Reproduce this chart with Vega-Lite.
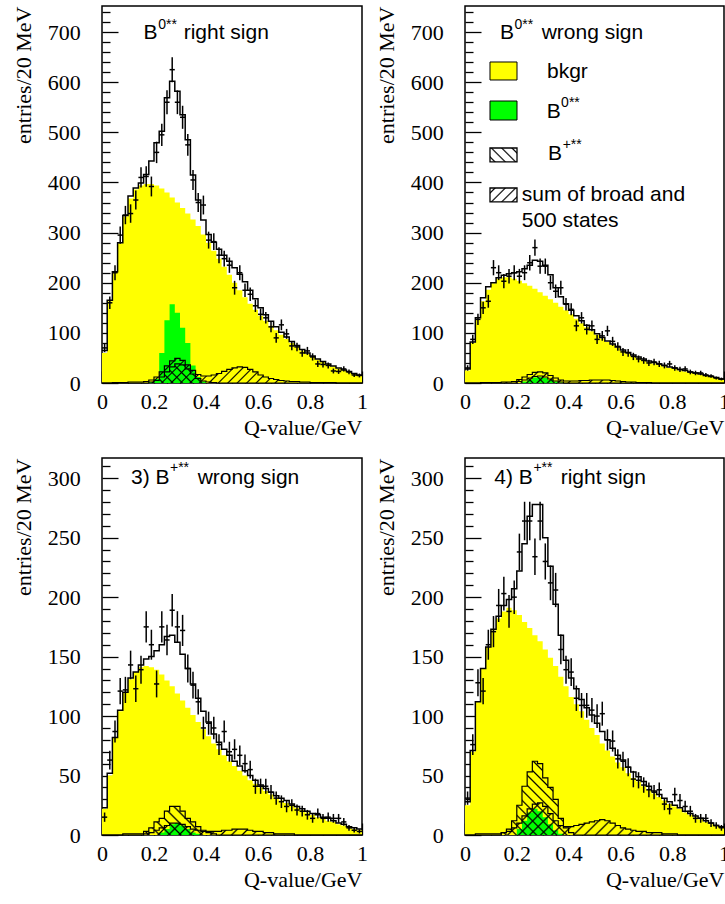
{
"$schema":"https://vega.github.io/schema/vega-lite/v6.json",
"padding":{"left":11,"top":5,"right":0,"bottom":0},
"background":"white",
"config":{"view":{"stroke":"black","strokeWidth":1.5},"font":"Liberation Sans",
"axis":{"domain":false,"grid":false,"tickColor":"black","tickWidth":1.3,"labelFont":"Liberation Serif","labelFontSize":22,"labelColor":"black","titleFont":"Liberation Serif","titleFontSize":22,"titleFontWeight":"normal","titleColor":"black","labelFlush":false,"labelOverlap":false,"titleAnchor":"end","zindex":1},
"axisX":{"labelPadding":20,"titlePadding":5},
"axisY":{"labelPadding":37.7,"titlePadding":12}},
"datasets":{
"h1":[{"q":0,"bk":60,"g":0,"bp":0,"s":0,"t":65},{"q":0.02,"bk":163,"g":0,"bp":0,"s":0,"t":165},{"q":0.04,"bk":221,"g":0,"bp":0,"s":1,"t":222},{"q":0.06,"bk":279,"g":0,"bp":0,"s":1,"t":280},{"q":0.08,"bk":332,"g":0,"bp":0,"s":1,"t":334},{"q":0.1,"bk":368,"g":0,"bp":0,"s":2,"t":373},{"q":0.12,"bk":386,"g":0,"bp":0,"s":2,"t":389},{"q":0.14,"bk":394,"g":0,"bp":0,"s":2,"t":399},{"q":0.16,"bk":397,"g":0,"bp":0,"s":3,"t":416},{"q":0.18,"bk":397,"g":2,"bp":2,"s":6,"t":443},{"q":0.2,"bk":394,"g":8,"bp":5,"s":12,"t":479},{"q":0.22,"bk":388,"g":60,"bp":12,"s":22,"t":502},{"q":0.24,"bk":380,"g":125,"bp":22,"s":34,"t":569},{"q":0.26,"bk":370,"g":157,"bp":32,"s":44,"t":602},{"q":0.28,"bk":360,"g":140,"bp":38,"s":49,"t":582},{"q":0.3,"bk":349,"g":110,"bp":36,"s":45,"t":535},{"q":0.32,"bk":338,"g":80,"bp":28,"s":36,"t":485},{"q":0.34,"bk":326,"g":35,"bp":18,"s":25,"t":415},{"q":0.36,"bk":313,"g":12,"bp":9,"s":17,"t":365},{"q":0.38,"bk":296,"g":3,"bp":4,"s":14,"t":325},{"q":0.4,"bk":280,"g":0,"bp":2,"s":14,"t":296},{"q":0.42,"bk":264,"g":0,"bp":1,"s":16,"t":281},{"q":0.44,"bk":248,"g":0,"bp":0,"s":19,"t":267},{"q":0.46,"bk":232,"g":0,"bp":0,"s":23,"t":255},{"q":0.48,"bk":216,"g":0,"bp":0,"s":27,"t":243},{"q":0.5,"bk":200,"g":0,"bp":0,"s":30,"t":230},{"q":0.52,"bk":185,"g":0,"bp":0,"s":32,"t":217},{"q":0.54,"bk":171,"g":0,"bp":0,"s":31,"t":202},{"q":0.56,"bk":158,"g":0,"bp":0,"s":27,"t":185},{"q":0.58,"bk":146,"g":0,"bp":0,"s":22,"t":168},{"q":0.6,"bk":134,"g":0,"bp":0,"s":16,"t":150},{"q":0.62,"bk":124,"g":0,"bp":0,"s":12,"t":136},{"q":0.64,"bk":114,"g":0,"bp":0,"s":9,"t":123},{"q":0.66,"bk":105,"g":0,"bp":0,"s":7,"t":112},{"q":0.68,"bk":96,"g":0,"bp":0,"s":5,"t":101},{"q":0.7,"bk":88,"g":0,"bp":0,"s":4,"t":92},{"q":0.72,"bk":80,"g":0,"bp":0,"s":3,"t":83},{"q":0.74,"bk":72,"g":0,"bp":0,"s":3,"t":75},{"q":0.76,"bk":65,"g":0,"bp":0,"s":2,"t":67},{"q":0.78,"bk":58,"g":0,"bp":0,"s":2,"t":60},{"q":0.8,"bk":53,"g":0,"bp":0,"s":1,"t":54},{"q":0.82,"bk":47,"g":0,"bp":0,"s":1,"t":48},{"q":0.84,"bk":42,"g":0,"bp":0,"s":1,"t":43},{"q":0.86,"bk":37,"g":0,"bp":0,"s":1,"t":38},{"q":0.88,"bk":33,"g":0,"bp":0,"s":1,"t":34},{"q":0.9,"bk":29,"g":0,"bp":0,"s":0,"t":30},{"q":0.92,"bk":26,"g":0,"bp":0,"s":0,"t":26},{"q":0.94,"bk":23,"g":0,"bp":0,"s":0,"t":23},{"q":0.96,"bk":19,"g":0,"bp":0,"s":0,"t":19},{"q":0.98,"bk":16,"g":0,"bp":0,"s":0,"t":16},{"q":1,"bk":16,"g":0,"bp":0,"s":0,"t":16}],
"h2":[{"q":0,"bk":25,"g":0,"bp":0,"s":0,"t":28},{"q":0.02,"bk":80,"g":0,"bp":0,"s":0,"t":82},{"q":0.04,"bk":126,"g":0,"bp":0,"s":0,"t":130},{"q":0.06,"bk":163,"g":0,"bp":0,"s":1,"t":170},{"q":0.08,"bk":186,"g":0,"bp":0,"s":1,"t":192},{"q":0.1,"bk":199,"g":0,"bp":0,"s":1,"t":200},{"q":0.12,"bk":208,"g":0,"bp":0,"s":1,"t":210},{"q":0.14,"bk":211,"g":0,"bp":0,"s":2,"t":215},{"q":0.16,"bk":211,"g":0,"bp":0,"s":2,"t":218},{"q":0.18,"bk":208,"g":0,"bp":0,"s":3,"t":220},{"q":0.2,"bk":204,"g":0,"bp":3,"s":7,"t":222},{"q":0.22,"bk":199,"g":3,"bp":6,"s":12,"t":228},{"q":0.24,"bk":194,"g":7,"bp":10,"s":17,"t":235},{"q":0.26,"bk":188,"g":11,"bp":13,"s":21,"t":245},{"q":0.28,"bk":181,"g":12,"bp":14,"s":22,"t":243},{"q":0.3,"bk":174,"g":10,"bp":12,"s":20,"t":235},{"q":0.32,"bk":167,"g":6,"bp":8,"s":15,"t":216},{"q":0.34,"bk":160,"g":3,"bp":4,"s":10,"t":190},{"q":0.36,"bk":152,"g":1,"bp":2,"s":6,"t":172},{"q":0.38,"bk":145,"g":0,"bp":0,"s":4,"t":158},{"q":0.4,"bk":137,"g":0,"bp":0,"s":4,"t":145},{"q":0.42,"bk":128,"g":0,"bp":0,"s":4,"t":134},{"q":0.44,"bk":119,"g":0,"bp":0,"s":5,"t":124},{"q":0.46,"bk":111,"g":0,"bp":0,"s":5,"t":115},{"q":0.48,"bk":103,"g":0,"bp":0,"s":6,"t":106},{"q":0.5,"bk":96,"g":0,"bp":0,"s":6,"t":98},{"q":0.52,"bk":89,"g":0,"bp":0,"s":6,"t":91},{"q":0.54,"bk":82,"g":0,"bp":0,"s":6,"t":84},{"q":0.56,"bk":76,"g":0,"bp":0,"s":5,"t":78},{"q":0.58,"bk":70,"g":0,"bp":0,"s":4,"t":72},{"q":0.6,"bk":64,"g":0,"bp":0,"s":3,"t":66},{"q":0.62,"bk":59,"g":0,"bp":0,"s":2,"t":61},{"q":0.64,"bk":54,"g":0,"bp":0,"s":2,"t":56},{"q":0.66,"bk":50,"g":0,"bp":0,"s":1,"t":52},{"q":0.68,"bk":46,"g":0,"bp":0,"s":1,"t":48},{"q":0.7,"bk":42,"g":0,"bp":0,"s":1,"t":44},{"q":0.72,"bk":39,"g":0,"bp":0,"s":0,"t":41},{"q":0.74,"bk":36,"g":0,"bp":0,"s":0,"t":38},{"q":0.76,"bk":33,"g":0,"bp":0,"s":0,"t":35},{"q":0.78,"bk":30,"g":0,"bp":0,"s":0,"t":32},{"q":0.8,"bk":28,"g":0,"bp":0,"s":0,"t":30},{"q":0.82,"bk":25,"g":0,"bp":0,"s":0,"t":27},{"q":0.84,"bk":23,"g":0,"bp":0,"s":0,"t":25},{"q":0.86,"bk":21,"g":0,"bp":0,"s":0,"t":22},{"q":0.88,"bk":19,"g":0,"bp":0,"s":0,"t":20},{"q":0.9,"bk":17,"g":0,"bp":0,"s":0,"t":18},{"q":0.92,"bk":14,"g":0,"bp":0,"s":0,"t":15},{"q":0.94,"bk":12,"g":0,"bp":0,"s":0,"t":13},{"q":0.96,"bk":10,"g":0,"bp":0,"s":0,"t":11},{"q":0.98,"bk":8,"g":0,"bp":0,"s":0,"t":8},{"q":1,"bk":8,"g":0,"bp":0,"s":0,"t":8}],
"h3":[{"q":0,"bk":22,"g":0,"bp":0,"s":0,"t":23},{"q":0.02,"bk":50,"g":0,"bp":0,"s":0,"t":52},{"q":0.04,"bk":82,"g":0,"bp":0,"s":0,"t":82},{"q":0.06,"bk":104,"g":0,"bp":0,"s":0,"t":105},{"q":0.08,"bk":120,"g":0,"bp":0,"s":1,"t":120},{"q":0.1,"bk":131,"g":0,"bp":0,"s":1,"t":132},{"q":0.12,"bk":137,"g":0,"bp":0,"s":1,"t":137},{"q":0.14,"bk":141,"g":0,"bp":0,"s":1,"t":143},{"q":0.16,"bk":142,"g":0,"bp":3,"s":1,"t":148},{"q":0.18,"bk":141,"g":0,"bp":6,"s":2,"t":150},{"q":0.2,"bk":139,"g":0,"bp":11,"s":4,"t":155},{"q":0.22,"bk":135,"g":2,"bp":14,"s":6,"t":160},{"q":0.24,"bk":130,"g":5,"bp":20,"s":8,"t":167},{"q":0.26,"bk":125,"g":9,"bp":24,"s":10,"t":168},{"q":0.28,"bk":119,"g":10,"bp":24,"s":10,"t":162},{"q":0.3,"bk":113,"g":8,"bp":20,"s":9,"t":152},{"q":0.32,"bk":107,"g":5,"bp":14,"s":7,"t":140},{"q":0.34,"bk":101,"g":2,"bp":11,"s":5,"t":127},{"q":0.36,"bk":95,"g":1,"bp":7,"s":4,"t":115},{"q":0.38,"bk":89,"g":0,"bp":4,"s":3,"t":104},{"q":0.4,"bk":83,"g":0,"bp":2,"s":3,"t":95},{"q":0.42,"bk":77,"g":0,"bp":1,"s":3,"t":85},{"q":0.44,"bk":72,"g":0,"bp":0,"s":3,"t":78},{"q":0.46,"bk":67,"g":0,"bp":0,"s":4,"t":72},{"q":0.48,"bk":62,"g":0,"bp":0,"s":4,"t":67},{"q":0.5,"bk":58,"g":0,"bp":0,"s":5,"t":62},{"q":0.52,"bk":54,"g":0,"bp":0,"s":5,"t":58},{"q":0.54,"bk":50,"g":0,"bp":0,"s":5,"t":54},{"q":0.56,"bk":46,"g":0,"bp":0,"s":4,"t":50},{"q":0.58,"bk":43,"g":0,"bp":0,"s":3,"t":46},{"q":0.6,"bk":40,"g":0,"bp":0,"s":3,"t":42},{"q":0.62,"bk":37,"g":0,"bp":0,"s":2,"t":39},{"q":0.64,"bk":34,"g":0,"bp":0,"s":2,"t":36},{"q":0.66,"bk":31,"g":0,"bp":0,"s":1,"t":33},{"q":0.68,"bk":29,"g":0,"bp":0,"s":1,"t":31},{"q":0.7,"bk":27,"g":0,"bp":0,"s":1,"t":29},{"q":0.72,"bk":25,"g":0,"bp":0,"s":1,"t":26},{"q":0.74,"bk":23,"g":0,"bp":0,"s":0,"t":24},{"q":0.76,"bk":21,"g":0,"bp":0,"s":0,"t":22},{"q":0.78,"bk":19,"g":0,"bp":0,"s":0,"t":20},{"q":0.8,"bk":17,"g":0,"bp":0,"s":0,"t":18},{"q":0.82,"bk":15,"g":0,"bp":0,"s":0,"t":17},{"q":0.84,"bk":14,"g":0,"bp":0,"s":0,"t":15},{"q":0.86,"bk":12,"g":0,"bp":0,"s":0,"t":14},{"q":0.88,"bk":11,"g":0,"bp":0,"s":0,"t":12},{"q":0.9,"bk":9,"g":0,"bp":0,"s":0,"t":10},{"q":0.92,"bk":8,"g":0,"bp":0,"s":0,"t":9},{"q":0.94,"bk":7,"g":0,"bp":0,"s":0,"t":7},{"q":0.96,"bk":5,"g":0,"bp":0,"s":0,"t":6},{"q":0.98,"bk":4,"g":0,"bp":0,"s":0,"t":5},{"q":1,"bk":4,"g":0,"bp":0,"s":0,"t":5}],
"h4":[{"q":0,"bk":25,"g":0,"bp":0,"s":0,"t":28},{"q":0.02,"bk":70,"g":0,"bp":0,"s":0,"t":71},{"q":0.04,"bk":112,"g":0,"bp":0,"s":1,"t":112},{"q":0.06,"bk":140,"g":0,"bp":0,"s":1,"t":140},{"q":0.08,"bk":158,"g":0,"bp":0,"s":1,"t":158},{"q":0.1,"bk":172,"g":0,"bp":0,"s":1,"t":173},{"q":0.12,"bk":182,"g":0,"bp":0,"s":1,"t":184},{"q":0.14,"bk":188,"g":0,"bp":2,"s":2,"t":193},{"q":0.16,"bk":191,"g":0,"bp":5,"s":3,"t":198},{"q":0.18,"bk":189,"g":0,"bp":12,"s":6,"t":207},{"q":0.2,"bk":185,"g":5,"bp":25,"s":10,"t":222},{"q":0.22,"bk":179,"g":12,"bp":41,"s":16,"t":245},{"q":0.24,"bk":174,"g":19,"bp":53,"s":22,"t":268},{"q":0.26,"bk":168,"g":22,"bp":62,"s":26,"t":278},{"q":0.28,"bk":163,"g":20,"bp":60,"s":27,"t":278},{"q":0.3,"bk":156,"g":15,"bp":48,"s":24,"t":250},{"q":0.32,"bk":149,"g":9,"bp":40,"s":18,"t":226},{"q":0.34,"bk":142,"g":4,"bp":30,"s":12,"t":194},{"q":0.36,"bk":133,"g":1,"bp":14,"s":8,"t":168},{"q":0.38,"bk":125,"g":0,"bp":6,"s":7,"t":147},{"q":0.4,"bk":116,"g":0,"bp":2,"s":7,"t":132},{"q":0.42,"bk":110,"g":0,"bp":0,"s":8,"t":123},{"q":0.44,"bk":104,"g":0,"bp":0,"s":9,"t":114},{"q":0.46,"bk":97,"g":0,"bp":0,"s":10,"t":107},{"q":0.48,"bk":90,"g":0,"bp":0,"s":11,"t":101},{"q":0.5,"bk":84,"g":0,"bp":0,"s":12,"t":94},{"q":0.52,"bk":77,"g":0,"bp":0,"s":13,"t":87},{"q":0.54,"bk":71,"g":0,"bp":0,"s":12,"t":80},{"q":0.56,"bk":66,"g":0,"bp":0,"s":10,"t":73},{"q":0.58,"bk":61,"g":0,"bp":0,"s":8,"t":67},{"q":0.6,"bk":57,"g":0,"bp":0,"s":6,"t":63},{"q":0.62,"bk":52,"g":0,"bp":0,"s":5,"t":57},{"q":0.64,"bk":48,"g":0,"bp":0,"s":4,"t":53},{"q":0.66,"bk":45,"g":0,"bp":0,"s":3,"t":49},{"q":0.68,"bk":41,"g":0,"bp":0,"s":3,"t":45},{"q":0.7,"bk":38,"g":0,"bp":0,"s":2,"t":41},{"q":0.72,"bk":35,"g":0,"bp":0,"s":2,"t":37},{"q":0.74,"bk":32,"g":0,"bp":0,"s":2,"t":34},{"q":0.76,"bk":29,"g":0,"bp":0,"s":1,"t":31},{"q":0.78,"bk":26,"g":0,"bp":0,"s":1,"t":28},{"q":0.8,"bk":24,"g":0,"bp":0,"s":1,"t":25},{"q":0.82,"bk":22,"g":0,"bp":0,"s":0,"t":23},{"q":0.84,"bk":19,"g":0,"bp":0,"s":0,"t":20},{"q":0.86,"bk":17,"g":0,"bp":0,"s":0,"t":18},{"q":0.88,"bk":15,"g":0,"bp":0,"s":0,"t":16},{"q":0.9,"bk":13,"g":0,"bp":0,"s":0,"t":14},{"q":0.92,"bk":11,"g":0,"bp":0,"s":0,"t":12},{"q":0.94,"bk":9,"g":0,"bp":0,"s":0,"t":10},{"q":0.96,"bk":8,"g":0,"bp":0,"s":0,"t":8},{"q":0.98,"bk":6,"g":0,"bp":0,"s":0,"t":7},{"q":1,"bk":6,"g":0,"bp":0,"s":0,"t":7}],
"d1":[{"q":0.01,"n":70,"e":8.4},{"q":0.03,"n":160,"e":12.6},{"q":0.05,"n":220,"e":14.8},{"q":0.07,"n":295,"e":17.2},{"q":0.09,"n":335,"e":18.3},{"q":0.11,"n":338,"e":18.4},{"q":0.13,"n":365,"e":19.1},{"q":0.15,"n":410,"e":20.2},{"q":0.17,"n":412,"e":20.3},{"q":0.19,"n":392,"e":19.8},{"q":0.21,"n":460,"e":21.4},{"q":0.23,"n":495,"e":22.2},{"q":0.25,"n":560,"e":23.7},{"q":0.27,"n":625,"e":25},{"q":0.29,"n":560,"e":23.7},{"q":0.31,"n":530,"e":23},{"q":0.33,"n":475,"e":21.8},{"q":0.35,"n":405,"e":20.1},{"q":0.37,"n":360,"e":19},{"q":0.39,"n":355,"e":18.8},{"q":0.41,"n":285,"e":16.9},{"q":0.43,"n":282,"e":16.8},{"q":0.45,"n":255,"e":16},{"q":0.47,"n":248,"e":15.7},{"q":0.49,"n":235,"e":15.3},{"q":0.51,"n":190,"e":13.8},{"q":0.53,"n":220,"e":14.8},{"q":0.55,"n":185,"e":13.6},{"q":0.57,"n":177,"e":13.3},{"q":0.59,"n":154,"e":12.4},{"q":0.61,"n":137,"e":11.7},{"q":0.63,"n":130,"e":11.4},{"q":0.65,"n":112,"e":10.6},{"q":0.67,"n":90,"e":9.5},{"q":0.69,"n":116,"e":10.8},{"q":0.71,"n":98,"e":9.9},{"q":0.73,"n":74,"e":8.6},{"q":0.75,"n":72,"e":8.5},{"q":0.77,"n":60,"e":7.7},{"q":0.79,"n":64,"e":8},{"q":0.81,"n":52,"e":7.2},{"q":0.83,"n":38,"e":6.2},{"q":0.85,"n":37,"e":6.1},{"q":0.87,"n":35,"e":5.9},{"q":0.89,"n":24,"e":4.9},{"q":0.91,"n":23,"e":4.8},{"q":0.93,"n":28,"e":5.3},{"q":0.95,"n":22,"e":4.7},{"q":0.97,"n":16,"e":4},{"q":0.99,"n":15,"e":3.9}],
"d2":[{"q":0.01,"n":30,"e":5.5},{"q":0.03,"n":87,"e":9.3},{"q":0.05,"n":127,"e":11.3},{"q":0.07,"n":150,"e":12.2},{"q":0.09,"n":163,"e":12.8},{"q":0.11,"n":230,"e":15.2},{"q":0.13,"n":220,"e":14.8},{"q":0.15,"n":203,"e":14.2},{"q":0.17,"n":213,"e":14.6},{"q":0.19,"n":220,"e":14.8},{"q":0.21,"n":213,"e":14.6},{"q":0.23,"n":220,"e":14.8},{"q":0.25,"n":240,"e":15.5},{"q":0.27,"n":270,"e":16.4},{"q":0.29,"n":233,"e":15.3},{"q":0.31,"n":233,"e":15.3},{"q":0.33,"n":200,"e":14.1},{"q":0.35,"n":183,"e":13.5},{"q":0.37,"n":190,"e":13.8},{"q":0.39,"n":157,"e":12.5},{"q":0.41,"n":147,"e":12.1},{"q":0.43,"n":114,"e":10.7},{"q":0.45,"n":130,"e":11.4},{"q":0.47,"n":107,"e":10.3},{"q":0.49,"n":114,"e":10.7},{"q":0.51,"n":87,"e":9.3},{"q":0.53,"n":94,"e":9.7},{"q":0.55,"n":104,"e":10.2},{"q":0.57,"n":83,"e":9.1},{"q":0.59,"n":73,"e":8.5},{"q":0.61,"n":62,"e":7.9},{"q":0.63,"n":60,"e":7.7},{"q":0.65,"n":53,"e":7.3},{"q":0.67,"n":48,"e":6.9},{"q":0.69,"n":45,"e":6.7},{"q":0.71,"n":40,"e":6.3},{"q":0.73,"n":42,"e":6.5},{"q":0.75,"n":38,"e":6.2},{"q":0.77,"n":35,"e":5.9},{"q":0.79,"n":38,"e":6.2},{"q":0.81,"n":30,"e":5.5},{"q":0.83,"n":27,"e":5.2},{"q":0.85,"n":28,"e":5.3},{"q":0.87,"n":22,"e":4.7},{"q":0.89,"n":20,"e":4.5},{"q":0.91,"n":20,"e":4.5},{"q":0.93,"n":16,"e":4},{"q":0.95,"n":14,"e":3.7},{"q":0.97,"n":10,"e":3.2},{"q":0.99,"n":8,"e":2.8}],
"d3":[{"q":0.01,"n":15,"e":3.9},{"q":0.03,"n":63,"e":7.9},{"q":0.05,"n":87,"e":9.3},{"q":0.07,"n":121,"e":11},{"q":0.09,"n":122,"e":11},{"q":0.11,"n":143,"e":12},{"q":0.13,"n":123,"e":11.1},{"q":0.15,"n":139,"e":11.8},{"q":0.17,"n":175,"e":13.2},{"q":0.19,"n":160,"e":12.6},{"q":0.21,"n":127,"e":11.3},{"q":0.23,"n":175,"e":13.2},{"q":0.25,"n":164,"e":12.8},{"q":0.27,"n":189,"e":13.7},{"q":0.29,"n":175,"e":13.2},{"q":0.31,"n":172,"e":13.1},{"q":0.33,"n":140,"e":11.8},{"q":0.35,"n":126,"e":11.2},{"q":0.37,"n":112,"e":10.6},{"q":0.39,"n":90,"e":9.5},{"q":0.41,"n":94,"e":9.7},{"q":0.43,"n":90,"e":9.5},{"q":0.45,"n":76,"e":8.7},{"q":0.47,"n":87,"e":9.3},{"q":0.49,"n":70,"e":8.4},{"q":0.51,"n":72,"e":8.5},{"q":0.53,"n":67,"e":8.2},{"q":0.55,"n":60,"e":7.7},{"q":0.57,"n":55,"e":7.4},{"q":0.59,"n":41,"e":6.4},{"q":0.61,"n":41,"e":6.4},{"q":0.63,"n":41,"e":6.4},{"q":0.65,"n":36,"e":6},{"q":0.67,"n":31,"e":5.6},{"q":0.69,"n":28,"e":5.3},{"q":0.71,"n":24,"e":4.9},{"q":0.73,"n":25,"e":5},{"q":0.75,"n":21,"e":4.6},{"q":0.77,"n":20,"e":4.5},{"q":0.79,"n":17,"e":4.1},{"q":0.81,"n":14,"e":3.7},{"q":0.83,"n":18,"e":4.2},{"q":0.85,"n":14,"e":3.7},{"q":0.87,"n":15,"e":3.9},{"q":0.89,"n":14,"e":3.7},{"q":0.91,"n":14,"e":3.7},{"q":0.93,"n":11,"e":3.3},{"q":0.95,"n":6,"e":2.4},{"q":0.97,"n":4,"e":2},{"q":0.99,"n":3,"e":1.7}],
"d4":[{"q":0.01,"n":31,"e":5.6},{"q":0.03,"n":76,"e":8.7},{"q":0.05,"n":128,"e":11.3},{"q":0.07,"n":121,"e":11},{"q":0.09,"n":160,"e":12.6},{"q":0.11,"n":171,"e":13.1},{"q":0.13,"n":193,"e":13.9},{"q":0.15,"n":203,"e":14.2},{"q":0.17,"n":188,"e":13.7},{"q":0.19,"n":200,"e":14.1},{"q":0.21,"n":238,"e":15.4},{"q":0.23,"n":264,"e":16.2},{"q":0.25,"n":264,"e":16.2},{"q":0.27,"n":234,"e":15.3},{"q":0.29,"n":264,"e":16.2},{"q":0.31,"n":230,"e":15.2},{"q":0.33,"n":212,"e":14.6},{"q":0.35,"n":206,"e":14.4},{"q":0.37,"n":156,"e":12.5},{"q":0.39,"n":139,"e":11.8},{"q":0.41,"n":137,"e":11.7},{"q":0.43,"n":115,"e":10.7},{"q":0.45,"n":109,"e":10.4},{"q":0.47,"n":109,"e":10.4},{"q":0.49,"n":105,"e":10.2},{"q":0.51,"n":100,"e":10},{"q":0.53,"n":102,"e":10.1},{"q":0.55,"n":80,"e":8.9},{"q":0.57,"n":79,"e":8.9},{"q":0.59,"n":64,"e":8},{"q":0.61,"n":62,"e":7.9},{"q":0.63,"n":57,"e":7.5},{"q":0.65,"n":47,"e":6.9},{"q":0.67,"n":46,"e":6.8},{"q":0.69,"n":42,"e":6.5},{"q":0.71,"n":38,"e":6.2},{"q":0.73,"n":36,"e":6},{"q":0.75,"n":38,"e":6.2},{"q":0.77,"n":26,"e":5.1},{"q":0.79,"n":22,"e":4.7},{"q":0.81,"n":34,"e":5.8},{"q":0.83,"n":29,"e":5.4},{"q":0.85,"n":24,"e":4.9},{"q":0.87,"n":20,"e":4.5},{"q":0.89,"n":14,"e":3.7},{"q":0.91,"n":14,"e":3.7},{"q":0.93,"n":14,"e":3.7},{"q":0.95,"n":10,"e":3.2},{"q":0.97,"n":8,"e":2.8},{"q":0.99,"n":6,"e":2.4}]
},
"spacing":18,
"vconcat":[
{"spacing":5,"hconcat":[
{"width":260,"height":377,"resolve":{"axis":{"x":"independent","y":"independent"}},"layer":[
{"data":{"name":"h1"},"mark":{"type":"area","interpolate":"step-after","color":"#ffff00"},"encoding":{"x":{"field":"q","type":"quantitative","scale":{"domain":[0,1],"nice":false,"zero":false},"axis":{"values":[0,0.2,0.4,0.6,0.8,1],"tickSize":-12,"format":"~g","orient":"bottom","title":"Q-value/GeV"}},"y":{"field":"bk","type":"quantitative","scale":{"domain":[0,752],"nice":false},"axis":{"values":[0,100,200,300,400,500,600,700],"tickSize":-16,"orient":"left","title":"entries/20 MeV"}}}},
{"data":{"name":"h1"},"mark":{"type":"area","interpolate":"step-after","color":"#00ff00"},"encoding":{"x":{"field":"q","type":"quantitative","axis":{"values":[0.05,0.1,0.15,0.25,0.3,0.35,0.45,0.5,0.55,0.65,0.7,0.75,0.85,0.9,0.95],"tickSize":-6,"labels":false,"title":null,"orient":"bottom"}},"y":{"field":"g","type":"quantitative","axis":{"values":[20,40,60,80,120,140,160,180,220,240,260,280,320,340,360,380,420,440,460,480,520,540,560,580,620,640,660,680,720,740],"tickSize":-8,"labels":false,"title":null,"orient":"left"}}}},
{"data":{"name":"h1"},"transform":[{"filter":"datum.q > 0.159 && datum.q < 0.721"}],"mark":{"type":"area","interpolate":"step-after","fill":{"gradient":"linear","x1":0,"y1":0,"x2":1.137,"y2":0.192,"stops":[{"offset":0.0188,"color":"rgba(0,0,0,0)"},{"offset":0.0278,"color":"#000"},{"offset":0.0368,"color":"rgba(0,0,0,0)"},{"offset":0.0743,"color":"rgba(0,0,0,0)"},{"offset":0.0833,"color":"#000"},{"offset":0.0923,"color":"rgba(0,0,0,0)"},{"offset":0.1299,"color":"rgba(0,0,0,0)"},{"offset":0.1389,"color":"#000"},{"offset":0.1479,"color":"rgba(0,0,0,0)"},{"offset":0.1854,"color":"rgba(0,0,0,0)"},{"offset":0.1944,"color":"#000"},{"offset":0.2034,"color":"rgba(0,0,0,0)"},{"offset":0.241,"color":"rgba(0,0,0,0)"},{"offset":0.25,"color":"#000"},{"offset":0.259,"color":"rgba(0,0,0,0)"},{"offset":0.2966,"color":"rgba(0,0,0,0)"},{"offset":0.3056,"color":"#000"},{"offset":0.3146,"color":"rgba(0,0,0,0)"},{"offset":0.3521,"color":"rgba(0,0,0,0)"},{"offset":0.3611,"color":"#000"},{"offset":0.3701,"color":"rgba(0,0,0,0)"},{"offset":0.4077,"color":"rgba(0,0,0,0)"},{"offset":0.4167,"color":"#000"},{"offset":0.4257,"color":"rgba(0,0,0,0)"},{"offset":0.4632,"color":"rgba(0,0,0,0)"},{"offset":0.4722,"color":"#000"},{"offset":0.4812,"color":"rgba(0,0,0,0)"},{"offset":0.5188,"color":"rgba(0,0,0,0)"},{"offset":0.5278,"color":"#000"},{"offset":0.5368,"color":"rgba(0,0,0,0)"},{"offset":0.5743,"color":"rgba(0,0,0,0)"},{"offset":0.5833,"color":"#000"},{"offset":0.5923,"color":"rgba(0,0,0,0)"},{"offset":0.6299,"color":"rgba(0,0,0,0)"},{"offset":0.6389,"color":"#000"},{"offset":0.6479,"color":"rgba(0,0,0,0)"},{"offset":0.6854,"color":"rgba(0,0,0,0)"},{"offset":0.6944,"color":"#000"},{"offset":0.7034,"color":"rgba(0,0,0,0)"},{"offset":0.741,"color":"rgba(0,0,0,0)"},{"offset":0.75,"color":"#000"},{"offset":0.759,"color":"rgba(0,0,0,0)"},{"offset":0.7966,"color":"rgba(0,0,0,0)"},{"offset":0.8056,"color":"#000"},{"offset":0.8146,"color":"rgba(0,0,0,0)"},{"offset":0.8521,"color":"rgba(0,0,0,0)"},{"offset":0.8611,"color":"#000"},{"offset":0.8701,"color":"rgba(0,0,0,0)"},{"offset":0.9077,"color":"rgba(0,0,0,0)"},{"offset":0.9167,"color":"#000"},{"offset":0.9257,"color":"rgba(0,0,0,0)"},{"offset":0.9632,"color":"rgba(0,0,0,0)"},{"offset":0.9722,"color":"#000"},{"offset":0.9812,"color":"rgba(0,0,0,0)"}]}},"encoding":{"x":{"field":"q","type":"quantitative","axis":null},"y":{"field":"s","type":"quantitative","axis":null}}},
{"data":{"name":"h1"},"transform":[{"filter":"datum.q > 0.179 && datum.q < 0.441"}],"mark":{"type":"area","interpolate":"step-after","fill":{"gradient":"linear","x1":0,"y1":1,"x2":1.187,"y2":0.666,"stops":[{"offset":0.0366,"color":"rgba(0,0,0,0)"},{"offset":0.0556,"color":"#000"},{"offset":0.0746,"color":"rgba(0,0,0,0)"},{"offset":0.1477,"color":"rgba(0,0,0,0)"},{"offset":0.1667,"color":"#000"},{"offset":0.1857,"color":"rgba(0,0,0,0)"},{"offset":0.2588,"color":"rgba(0,0,0,0)"},{"offset":0.2778,"color":"#000"},{"offset":0.2968,"color":"rgba(0,0,0,0)"},{"offset":0.3699,"color":"rgba(0,0,0,0)"},{"offset":0.3889,"color":"#000"},{"offset":0.4079,"color":"rgba(0,0,0,0)"},{"offset":0.481,"color":"rgba(0,0,0,0)"},{"offset":0.5,"color":"#000"},{"offset":0.519,"color":"rgba(0,0,0,0)"},{"offset":0.5921,"color":"rgba(0,0,0,0)"},{"offset":0.6111,"color":"#000"},{"offset":0.6301,"color":"rgba(0,0,0,0)"},{"offset":0.7032,"color":"rgba(0,0,0,0)"},{"offset":0.7222,"color":"#000"},{"offset":0.7412,"color":"rgba(0,0,0,0)"},{"offset":0.8143,"color":"rgba(0,0,0,0)"},{"offset":0.8333,"color":"#000"},{"offset":0.8523,"color":"rgba(0,0,0,0)"},{"offset":0.9254,"color":"rgba(0,0,0,0)"},{"offset":0.9444,"color":"#000"},{"offset":0.9634,"color":"rgba(0,0,0,0)"}]}},"encoding":{"x":{"field":"q","type":"quantitative","axis":null},"y":{"field":"bp","type":"quantitative","axis":null}}},
{"data":{"name":"h1"},"mark":{"type":"line","interpolate":"step-after","color":"black","strokeWidth":1.2},"encoding":{"x":{"field":"q","type":"quantitative","axis":null},"y":{"field":"s","type":"quantitative","axis":null}}},
{"data":{"name":"h1"},"mark":{"type":"line","interpolate":"step-after","color":"black","strokeWidth":1.2},"encoding":{"x":{"field":"q","type":"quantitative","axis":null},"y":{"field":"bp","type":"quantitative","axis":null}}},
{"data":{"name":"h1"},"mark":{"type":"line","interpolate":"step-after","color":"black","strokeWidth":1.5},"encoding":{"x":{"field":"q","type":"quantitative","axis":null},"y":{"field":"t","type":"quantitative","axis":null}}},
{"data":{"name":"d1"},"mark":{"type":"errorbar","color":"black","thickness":1.5},"encoding":{"x":{"field":"q","type":"quantitative","axis":null},"y":{"field":"n","type":"quantitative","axis":null},"yError":{"field":"e"}}},
{"data":{"name":"d1"},"mark":{"type":"tick","orient":"horizontal","size":5.2,"thickness":1.5,"color":"black","opacity":1},"encoding":{"x":{"field":"q","type":"quantitative","axis":null},"y":{"field":"n","type":"quantitative","axis":null}}},
{"data":{"values":[{"x":0.16,"y":687,"t":"B"},{"x":0.314,"y":687,"t":"right sign"}]},"mark":{"type":"text","align":"left","baseline":"alphabetic","font":"Liberation Sans","fontSize":21,"color":"black"},"encoding":{"x":{"field":"x","type":"quantitative","axis":null},"y":{"field":"y","type":"quantitative","axis":null},"text":{"field":"t"}}},
{"data":{"values":[{"x":0.216,"y":706,"t":"0**"}]},"mark":{"type":"text","align":"left","baseline":"alphabetic","font":"Liberation Sans","fontSize":14,"color":"black"},"encoding":{"x":{"field":"x","type":"quantitative","axis":null},"y":{"field":"y","type":"quantitative","axis":null},"text":{"field":"t"}}}
]},
{"width":259,"height":377,"resolve":{"axis":{"x":"independent","y":"independent"}},"layer":[
{"data":{"name":"h2"},"mark":{"type":"area","interpolate":"step-after","color":"#ffff00"},"encoding":{"x":{"field":"q","type":"quantitative","scale":{"domain":[0,1],"nice":false,"zero":false},"axis":{"values":[0,0.2,0.4,0.6,0.8,1],"tickSize":-12,"format":"~g","orient":"bottom","title":"Q-value/GeV"}},"y":{"field":"bk","type":"quantitative","scale":{"domain":[0,752],"nice":false},"axis":{"values":[0,100,200,300,400,500,600,700],"tickSize":-16,"orient":"left","title":"entries/20 MeV"}}}},
{"data":{"name":"h2"},"mark":{"type":"area","interpolate":"step-after","color":"#00ff00"},"encoding":{"x":{"field":"q","type":"quantitative","axis":{"values":[0.05,0.1,0.15,0.25,0.3,0.35,0.45,0.5,0.55,0.65,0.7,0.75,0.85,0.9,0.95],"tickSize":-6,"labels":false,"title":null,"orient":"bottom"}},"y":{"field":"g","type":"quantitative","axis":{"values":[20,40,60,80,120,140,160,180,220,240,260,280,320,340,360,380,420,440,460,480,520,540,560,580,620,640,660,680,720,740],"tickSize":-8,"labels":false,"title":null,"orient":"left"}}}},
{"data":{"name":"h2"},"transform":[{"filter":"datum.q > 0.139 && datum.q < 0.661"}],"mark":{"type":"area","interpolate":"step-after","fill":{"gradient":"linear","x1":0,"y1":0,"x2":1.0745,"y2":0.0878,"stops":[{"offset":0.0237,"color":"rgba(0,0,0,0)"},{"offset":0.0357,"color":"#000"},{"offset":0.0477,"color":"rgba(0,0,0,0)"},{"offset":0.0951,"color":"rgba(0,0,0,0)"},{"offset":0.1071,"color":"#000"},{"offset":0.1191,"color":"rgba(0,0,0,0)"},{"offset":0.1666,"color":"rgba(0,0,0,0)"},{"offset":0.1786,"color":"#000"},{"offset":0.1906,"color":"rgba(0,0,0,0)"},{"offset":0.238,"color":"rgba(0,0,0,0)"},{"offset":0.25,"color":"#000"},{"offset":0.262,"color":"rgba(0,0,0,0)"},{"offset":0.3094,"color":"rgba(0,0,0,0)"},{"offset":0.3214,"color":"#000"},{"offset":0.3334,"color":"rgba(0,0,0,0)"},{"offset":0.3809,"color":"rgba(0,0,0,0)"},{"offset":0.3929,"color":"#000"},{"offset":0.4049,"color":"rgba(0,0,0,0)"},{"offset":0.4523,"color":"rgba(0,0,0,0)"},{"offset":0.4643,"color":"#000"},{"offset":0.4763,"color":"rgba(0,0,0,0)"},{"offset":0.5237,"color":"rgba(0,0,0,0)"},{"offset":0.5357,"color":"#000"},{"offset":0.5477,"color":"rgba(0,0,0,0)"},{"offset":0.5951,"color":"rgba(0,0,0,0)"},{"offset":0.6071,"color":"#000"},{"offset":0.6191,"color":"rgba(0,0,0,0)"},{"offset":0.6666,"color":"rgba(0,0,0,0)"},{"offset":0.6786,"color":"#000"},{"offset":0.6906,"color":"rgba(0,0,0,0)"},{"offset":0.738,"color":"rgba(0,0,0,0)"},{"offset":0.75,"color":"#000"},{"offset":0.762,"color":"rgba(0,0,0,0)"},{"offset":0.8094,"color":"rgba(0,0,0,0)"},{"offset":0.8214,"color":"#000"},{"offset":0.8334,"color":"rgba(0,0,0,0)"},{"offset":0.8809,"color":"rgba(0,0,0,0)"},{"offset":0.8929,"color":"#000"},{"offset":0.9049,"color":"rgba(0,0,0,0)"},{"offset":0.9523,"color":"rgba(0,0,0,0)"},{"offset":0.9643,"color":"#000"},{"offset":0.9763,"color":"rgba(0,0,0,0)"}]}},"encoding":{"x":{"field":"q","type":"quantitative","axis":null},"y":{"field":"s","type":"quantitative","axis":null}}},
{"data":{"name":"h2"},"transform":[{"filter":"datum.q > 0.199 && datum.q < 0.381"}],"mark":{"type":"area","interpolate":"step-after","fill":{"gradient":"linear","x1":0,"y1":1,"x2":1.125,"y2":0.831,"stops":[{"offset":0.07,"color":"rgba(0,0,0,0)"},{"offset":0.1,"color":"#000"},{"offset":0.13,"color":"rgba(0,0,0,0)"},{"offset":0.27,"color":"rgba(0,0,0,0)"},{"offset":0.3,"color":"#000"},{"offset":0.33,"color":"rgba(0,0,0,0)"},{"offset":0.47,"color":"rgba(0,0,0,0)"},{"offset":0.5,"color":"#000"},{"offset":0.53,"color":"rgba(0,0,0,0)"},{"offset":0.67,"color":"rgba(0,0,0,0)"},{"offset":0.7,"color":"#000"},{"offset":0.73,"color":"rgba(0,0,0,0)"},{"offset":0.87,"color":"rgba(0,0,0,0)"},{"offset":0.9,"color":"#000"},{"offset":0.93,"color":"rgba(0,0,0,0)"}]}},"encoding":{"x":{"field":"q","type":"quantitative","axis":null},"y":{"field":"bp","type":"quantitative","axis":null}}},
{"data":{"name":"h2"},"mark":{"type":"line","interpolate":"step-after","color":"black","strokeWidth":1.2},"encoding":{"x":{"field":"q","type":"quantitative","axis":null},"y":{"field":"s","type":"quantitative","axis":null}}},
{"data":{"name":"h2"},"mark":{"type":"line","interpolate":"step-after","color":"black","strokeWidth":1.2},"encoding":{"x":{"field":"q","type":"quantitative","axis":null},"y":{"field":"bp","type":"quantitative","axis":null}}},
{"data":{"name":"h2"},"mark":{"type":"line","interpolate":"step-after","color":"black","strokeWidth":1.5},"encoding":{"x":{"field":"q","type":"quantitative","axis":null},"y":{"field":"t","type":"quantitative","axis":null}}},
{"data":{"name":"d2"},"mark":{"type":"errorbar","color":"black","thickness":1.5},"encoding":{"x":{"field":"q","type":"quantitative","axis":null},"y":{"field":"n","type":"quantitative","axis":null},"yError":{"field":"e"}}},
{"data":{"name":"d2"},"mark":{"type":"tick","orient":"horizontal","size":5.2,"thickness":1.5,"color":"black","opacity":1},"encoding":{"x":{"field":"q","type":"quantitative","axis":null},"y":{"field":"n","type":"quantitative","axis":null}}},
{"data":{"values":[{"x":0.0965,"x2":0.2008,"y":604.4,"y2":640.3}]},"mark":{"type":"rect","color":"#ffff00","stroke":"black","strokeWidth":1},"encoding":{"x":{"field":"x","type":"quantitative","axis":null},"x2":{"field":"x2"},"y":{"field":"y","type":"quantitative","axis":null},"y2":{"field":"y2"}}},
{"data":{"values":[{"x":0.0965,"x2":0.2008,"y":524.6,"y2":562.5}]},"mark":{"type":"rect","color":"#00ff00","stroke":"black","strokeWidth":1},"encoding":{"x":{"field":"x","type":"quantitative","axis":null},"x2":{"field":"x2"},"y":{"field":"y","type":"quantitative","axis":null},"y2":{"field":"y2"}}},
{"data":{"values":[{"x":0.0965,"x2":0.2008,"y":440.9,"y2":468.8}]},"mark":{"type":"rect","stroke":"black","strokeWidth":1.3,"fill":{"gradient":"linear","x1":0,"y1":1,"x2":1.197,"y2":0.379,"stops":[{"offset":0.085,"color":"rgba(0,0,0,0)"},{"offset":0.125,"color":"#000"},{"offset":0.165,"color":"rgba(0,0,0,0)"},{"offset":0.335,"color":"rgba(0,0,0,0)"},{"offset":0.375,"color":"#000"},{"offset":0.415,"color":"rgba(0,0,0,0)"},{"offset":0.585,"color":"rgba(0,0,0,0)"},{"offset":0.625,"color":"#000"},{"offset":0.665,"color":"rgba(0,0,0,0)"},{"offset":0.835,"color":"rgba(0,0,0,0)"},{"offset":0.875,"color":"#000"},{"offset":0.915,"color":"rgba(0,0,0,0)"}]}},"encoding":{"x":{"field":"x","type":"quantitative","axis":null},"x2":{"field":"x2"},"y":{"field":"y","type":"quantitative","axis":null},"y2":{"field":"y2"}}},
{"data":{"values":[{"x":0.0965,"x2":0.2008,"y":361.1,"y2":389.0}]},"mark":{"type":"rect","stroke":"black","strokeWidth":1.3,"fill":{"gradient":"linear","x1":0,"y1":0,"x2":1.197,"y2":0.621,"stops":[{"offset":0.085,"color":"rgba(0,0,0,0)"},{"offset":0.125,"color":"#000"},{"offset":0.165,"color":"rgba(0,0,0,0)"},{"offset":0.335,"color":"rgba(0,0,0,0)"},{"offset":0.375,"color":"#000"},{"offset":0.415,"color":"rgba(0,0,0,0)"},{"offset":0.585,"color":"rgba(0,0,0,0)"},{"offset":0.625,"color":"#000"},{"offset":0.665,"color":"rgba(0,0,0,0)"},{"offset":0.835,"color":"rgba(0,0,0,0)"},{"offset":0.875,"color":"#000"},{"offset":0.915,"color":"rgba(0,0,0,0)"}]}},"encoding":{"x":{"field":"x","type":"quantitative","axis":null},"x2":{"field":"x2"},"y":{"field":"y","type":"quantitative","axis":null},"y2":{"field":"y2"}}},
{"data":{"values":[{"x":0.135,"y":687,"t":"B"},{"x":0.296,"y":687,"t":"wrong sign"},{"x":0.3166,"y":608,"t":"bkgr"},{"x":0.3154,"y":528,"t":"B"},{"x":0.3205,"y":444,"t":"B"},{"x":0.219,"y":363,"t":"sum of broad and"},{"x":0.219,"y":312,"t":"500 states"}]},"mark":{"type":"text","align":"left","baseline":"alphabetic","font":"Liberation Sans","fontSize":21,"color":"black"},"encoding":{"x":{"field":"x","type":"quantitative","axis":null},"y":{"field":"y","type":"quantitative","axis":null},"text":{"field":"t"}}},
{"data":{"values":[{"x":0.191,"y":706,"t":"0**"},{"x":0.371,"y":550,"t":"0**"},{"x":0.377,"y":466,"t":"+**"}]},"mark":{"type":"text","align":"left","baseline":"alphabetic","font":"Liberation Sans","fontSize":14,"color":"black"},"encoding":{"x":{"field":"x","type":"quantitative","axis":null},"y":{"field":"y","type":"quantitative","axis":null},"text":{"field":"t"}}}
]}
]},
{"spacing":5,"hconcat":[
{"width":260,"height":377,"resolve":{"axis":{"x":"independent","y":"independent"}},"layer":[
{"data":{"name":"h3"},"mark":{"type":"area","interpolate":"step-after","color":"#ffff00"},"encoding":{"x":{"field":"q","type":"quantitative","scale":{"domain":[0,1],"nice":false,"zero":false},"axis":{"values":[0,0.2,0.4,0.6,0.8,1],"tickSize":-12,"format":"~g","orient":"bottom","title":"Q-value/GeV"}},"y":{"field":"bk","type":"quantitative","scale":{"domain":[0,317],"nice":false},"axis":{"values":[0,50,100,150,200,250,300],"tickSize":-16,"orient":"left","title":"entries/20 MeV"}}}},
{"data":{"name":"h3"},"mark":{"type":"area","interpolate":"step-after","color":"#00ff00"},"encoding":{"x":{"field":"q","type":"quantitative","axis":{"values":[0.05,0.1,0.15,0.25,0.3,0.35,0.45,0.5,0.55,0.65,0.7,0.75,0.85,0.9,0.95],"tickSize":-6,"labels":false,"title":null,"orient":"bottom"}},"y":{"field":"g","type":"quantitative","axis":{"values":[10,20,30,40,60,70,80,90,110,120,130,140,160,170,180,190,210,220,230,240,260,270,280,290,310],"tickSize":-8,"labels":false,"title":null,"orient":"left"}}}},
{"data":{"name":"h3"},"transform":[{"filter":"datum.q > 0.159 && datum.q < 0.681"}],"mark":{"type":"area","interpolate":"step-after","fill":{"gradient":"linear","x1":0,"y1":0,"x2":1.0797,"y2":0.095,"stops":[{"offset":0.0237,"color":"rgba(0,0,0,0)"},{"offset":0.0357,"color":"#000"},{"offset":0.0477,"color":"rgba(0,0,0,0)"},{"offset":0.0951,"color":"rgba(0,0,0,0)"},{"offset":0.1071,"color":"#000"},{"offset":0.1191,"color":"rgba(0,0,0,0)"},{"offset":0.1666,"color":"rgba(0,0,0,0)"},{"offset":0.1786,"color":"#000"},{"offset":0.1906,"color":"rgba(0,0,0,0)"},{"offset":0.238,"color":"rgba(0,0,0,0)"},{"offset":0.25,"color":"#000"},{"offset":0.262,"color":"rgba(0,0,0,0)"},{"offset":0.3094,"color":"rgba(0,0,0,0)"},{"offset":0.3214,"color":"#000"},{"offset":0.3334,"color":"rgba(0,0,0,0)"},{"offset":0.3809,"color":"rgba(0,0,0,0)"},{"offset":0.3929,"color":"#000"},{"offset":0.4049,"color":"rgba(0,0,0,0)"},{"offset":0.4523,"color":"rgba(0,0,0,0)"},{"offset":0.4643,"color":"#000"},{"offset":0.4763,"color":"rgba(0,0,0,0)"},{"offset":0.5237,"color":"rgba(0,0,0,0)"},{"offset":0.5357,"color":"#000"},{"offset":0.5477,"color":"rgba(0,0,0,0)"},{"offset":0.5951,"color":"rgba(0,0,0,0)"},{"offset":0.6071,"color":"#000"},{"offset":0.6191,"color":"rgba(0,0,0,0)"},{"offset":0.6666,"color":"rgba(0,0,0,0)"},{"offset":0.6786,"color":"#000"},{"offset":0.6906,"color":"rgba(0,0,0,0)"},{"offset":0.738,"color":"rgba(0,0,0,0)"},{"offset":0.75,"color":"#000"},{"offset":0.762,"color":"rgba(0,0,0,0)"},{"offset":0.8094,"color":"rgba(0,0,0,0)"},{"offset":0.8214,"color":"#000"},{"offset":0.8334,"color":"rgba(0,0,0,0)"},{"offset":0.8809,"color":"rgba(0,0,0,0)"},{"offset":0.8929,"color":"#000"},{"offset":0.9049,"color":"rgba(0,0,0,0)"},{"offset":0.9523,"color":"rgba(0,0,0,0)"},{"offset":0.9643,"color":"#000"},{"offset":0.9763,"color":"rgba(0,0,0,0)"}]}},"encoding":{"x":{"field":"q","type":"quantitative","axis":null},"y":{"field":"s","type":"quantitative","axis":null}}},
{"data":{"name":"h3"},"transform":[{"filter":"datum.q > 0.159 && datum.q < 0.421"}],"mark":{"type":"area","interpolate":"step-after","fill":{"gradient":"linear","x1":0,"y1":1,"x2":1.207,"y2":0.491,"stops":[{"offset":0.0366,"color":"rgba(0,0,0,0)"},{"offset":0.0556,"color":"#000"},{"offset":0.0746,"color":"rgba(0,0,0,0)"},{"offset":0.1477,"color":"rgba(0,0,0,0)"},{"offset":0.1667,"color":"#000"},{"offset":0.1857,"color":"rgba(0,0,0,0)"},{"offset":0.2588,"color":"rgba(0,0,0,0)"},{"offset":0.2778,"color":"#000"},{"offset":0.2968,"color":"rgba(0,0,0,0)"},{"offset":0.3699,"color":"rgba(0,0,0,0)"},{"offset":0.3889,"color":"#000"},{"offset":0.4079,"color":"rgba(0,0,0,0)"},{"offset":0.481,"color":"rgba(0,0,0,0)"},{"offset":0.5,"color":"#000"},{"offset":0.519,"color":"rgba(0,0,0,0)"},{"offset":0.5921,"color":"rgba(0,0,0,0)"},{"offset":0.6111,"color":"#000"},{"offset":0.6301,"color":"rgba(0,0,0,0)"},{"offset":0.7032,"color":"rgba(0,0,0,0)"},{"offset":0.7222,"color":"#000"},{"offset":0.7412,"color":"rgba(0,0,0,0)"},{"offset":0.8143,"color":"rgba(0,0,0,0)"},{"offset":0.8333,"color":"#000"},{"offset":0.8523,"color":"rgba(0,0,0,0)"},{"offset":0.9254,"color":"rgba(0,0,0,0)"},{"offset":0.9444,"color":"#000"},{"offset":0.9634,"color":"rgba(0,0,0,0)"}]}},"encoding":{"x":{"field":"q","type":"quantitative","axis":null},"y":{"field":"bp","type":"quantitative","axis":null}}},
{"data":{"name":"h3"},"mark":{"type":"line","interpolate":"step-after","color":"black","strokeWidth":1.2},"encoding":{"x":{"field":"q","type":"quantitative","axis":null},"y":{"field":"s","type":"quantitative","axis":null}}},
{"data":{"name":"h3"},"mark":{"type":"line","interpolate":"step-after","color":"black","strokeWidth":1.2},"encoding":{"x":{"field":"q","type":"quantitative","axis":null},"y":{"field":"bp","type":"quantitative","axis":null}}},
{"data":{"name":"h3"},"mark":{"type":"line","interpolate":"step-after","color":"black","strokeWidth":1.5},"encoding":{"x":{"field":"q","type":"quantitative","axis":null},"y":{"field":"t","type":"quantitative","axis":null}}},
{"data":{"name":"d3"},"mark":{"type":"errorbar","color":"black","thickness":1.5},"encoding":{"x":{"field":"q","type":"quantitative","axis":null},"y":{"field":"n","type":"quantitative","axis":null},"yError":{"field":"e"}}},
{"data":{"name":"d3"},"mark":{"type":"tick","orient":"horizontal","size":5.2,"thickness":1.5,"color":"black","opacity":1},"encoding":{"x":{"field":"q","type":"quantitative","axis":null},"y":{"field":"n","type":"quantitative","axis":null}}},
{"data":{"values":[{"x":0.1115,"y":295,"t":"3) B"},{"x":0.368,"y":295,"t":"wrong sign"}]},"mark":{"type":"text","align":"left","baseline":"alphabetic","font":"Liberation Sans","fontSize":21,"color":"black"},"encoding":{"x":{"field":"x","type":"quantitative","axis":null},"y":{"field":"y","type":"quantitative","axis":null},"text":{"field":"t"}}},
{"data":{"values":[{"x":0.2615,"y":305,"t":"+**"}]},"mark":{"type":"text","align":"left","baseline":"alphabetic","font":"Liberation Sans","fontSize":14,"color":"black"},"encoding":{"x":{"field":"x","type":"quantitative","axis":null},"y":{"field":"y","type":"quantitative","axis":null},"text":{"field":"t"}}}
]},
{"width":259,"height":377,"resolve":{"axis":{"x":"independent","y":"independent"}},"layer":[
{"data":{"name":"h4"},"mark":{"type":"area","interpolate":"step-after","color":"#ffff00"},"encoding":{"x":{"field":"q","type":"quantitative","scale":{"domain":[0,1],"nice":false,"zero":false},"axis":{"values":[0,0.2,0.4,0.6,0.8,1],"tickSize":-12,"format":"~g","orient":"bottom","title":"Q-value/GeV"}},"y":{"field":"bk","type":"quantitative","scale":{"domain":[0,317],"nice":false},"axis":{"values":[0,50,100,150,200,250,300],"tickSize":-16,"orient":"left","title":"entries/20 MeV"}}}},
{"data":{"name":"h4"},"mark":{"type":"area","interpolate":"step-after","color":"#00ff00"},"encoding":{"x":{"field":"q","type":"quantitative","axis":{"values":[0.05,0.1,0.15,0.25,0.3,0.35,0.45,0.5,0.55,0.65,0.7,0.75,0.85,0.9,0.95],"tickSize":-6,"labels":false,"title":null,"orient":"bottom"}},"y":{"field":"g","type":"quantitative","axis":{"values":[10,20,30,40,60,70,80,90,110,120,130,140,160,170,180,190,210,220,230,240,260,270,280,290,310],"tickSize":-8,"labels":false,"title":null,"orient":"left"}}}},
{"data":{"name":"h4"},"transform":[{"filter":"datum.q > 0.139 && datum.q < 0.781"}],"mark":{"type":"area","interpolate":"step-after","fill":{"gradient":"linear","x1":0,"y1":0,"x2":1.1505,"y2":0.2227,"stops":[{"offset":0.0188,"color":"rgba(0,0,0,0)"},{"offset":0.0278,"color":"#000"},{"offset":0.0368,"color":"rgba(0,0,0,0)"},{"offset":0.0743,"color":"rgba(0,0,0,0)"},{"offset":0.0833,"color":"#000"},{"offset":0.0923,"color":"rgba(0,0,0,0)"},{"offset":0.1299,"color":"rgba(0,0,0,0)"},{"offset":0.1389,"color":"#000"},{"offset":0.1479,"color":"rgba(0,0,0,0)"},{"offset":0.1854,"color":"rgba(0,0,0,0)"},{"offset":0.1944,"color":"#000"},{"offset":0.2034,"color":"rgba(0,0,0,0)"},{"offset":0.241,"color":"rgba(0,0,0,0)"},{"offset":0.25,"color":"#000"},{"offset":0.259,"color":"rgba(0,0,0,0)"},{"offset":0.2966,"color":"rgba(0,0,0,0)"},{"offset":0.3056,"color":"#000"},{"offset":0.3146,"color":"rgba(0,0,0,0)"},{"offset":0.3521,"color":"rgba(0,0,0,0)"},{"offset":0.3611,"color":"#000"},{"offset":0.3701,"color":"rgba(0,0,0,0)"},{"offset":0.4077,"color":"rgba(0,0,0,0)"},{"offset":0.4167,"color":"#000"},{"offset":0.4257,"color":"rgba(0,0,0,0)"},{"offset":0.4632,"color":"rgba(0,0,0,0)"},{"offset":0.4722,"color":"#000"},{"offset":0.4812,"color":"rgba(0,0,0,0)"},{"offset":0.5188,"color":"rgba(0,0,0,0)"},{"offset":0.5278,"color":"#000"},{"offset":0.5368,"color":"rgba(0,0,0,0)"},{"offset":0.5743,"color":"rgba(0,0,0,0)"},{"offset":0.5833,"color":"#000"},{"offset":0.5923,"color":"rgba(0,0,0,0)"},{"offset":0.6299,"color":"rgba(0,0,0,0)"},{"offset":0.6389,"color":"#000"},{"offset":0.6479,"color":"rgba(0,0,0,0)"},{"offset":0.6854,"color":"rgba(0,0,0,0)"},{"offset":0.6944,"color":"#000"},{"offset":0.7034,"color":"rgba(0,0,0,0)"},{"offset":0.741,"color":"rgba(0,0,0,0)"},{"offset":0.75,"color":"#000"},{"offset":0.759,"color":"rgba(0,0,0,0)"},{"offset":0.7966,"color":"rgba(0,0,0,0)"},{"offset":0.8056,"color":"#000"},{"offset":0.8146,"color":"rgba(0,0,0,0)"},{"offset":0.8521,"color":"rgba(0,0,0,0)"},{"offset":0.8611,"color":"#000"},{"offset":0.8701,"color":"rgba(0,0,0,0)"},{"offset":0.9077,"color":"rgba(0,0,0,0)"},{"offset":0.9167,"color":"#000"},{"offset":0.9257,"color":"rgba(0,0,0,0)"},{"offset":0.9632,"color":"rgba(0,0,0,0)"},{"offset":0.9722,"color":"#000"},{"offset":0.9812,"color":"rgba(0,0,0,0)"}]}},"encoding":{"x":{"field":"q","type":"quantitative","axis":null},"y":{"field":"s","type":"quantitative","axis":null}}},
{"data":{"name":"h4"},"transform":[{"filter":"datum.q > 0.139 && datum.q < 0.401"}],"mark":{"type":"area","interpolate":"step-after","fill":{"gradient":"linear","x1":0,"y1":1,"x2":0.9527,"y2":-0.043,"stops":[{"offset":0.0237,"color":"rgba(0,0,0,0)"},{"offset":0.0357,"color":"#000"},{"offset":0.0477,"color":"rgba(0,0,0,0)"},{"offset":0.0951,"color":"rgba(0,0,0,0)"},{"offset":0.1071,"color":"#000"},{"offset":0.1191,"color":"rgba(0,0,0,0)"},{"offset":0.1666,"color":"rgba(0,0,0,0)"},{"offset":0.1786,"color":"#000"},{"offset":0.1906,"color":"rgba(0,0,0,0)"},{"offset":0.238,"color":"rgba(0,0,0,0)"},{"offset":0.25,"color":"#000"},{"offset":0.262,"color":"rgba(0,0,0,0)"},{"offset":0.3094,"color":"rgba(0,0,0,0)"},{"offset":0.3214,"color":"#000"},{"offset":0.3334,"color":"rgba(0,0,0,0)"},{"offset":0.3809,"color":"rgba(0,0,0,0)"},{"offset":0.3929,"color":"#000"},{"offset":0.4049,"color":"rgba(0,0,0,0)"},{"offset":0.4523,"color":"rgba(0,0,0,0)"},{"offset":0.4643,"color":"#000"},{"offset":0.4763,"color":"rgba(0,0,0,0)"},{"offset":0.5237,"color":"rgba(0,0,0,0)"},{"offset":0.5357,"color":"#000"},{"offset":0.5477,"color":"rgba(0,0,0,0)"},{"offset":0.5951,"color":"rgba(0,0,0,0)"},{"offset":0.6071,"color":"#000"},{"offset":0.6191,"color":"rgba(0,0,0,0)"},{"offset":0.6666,"color":"rgba(0,0,0,0)"},{"offset":0.6786,"color":"#000"},{"offset":0.6906,"color":"rgba(0,0,0,0)"},{"offset":0.738,"color":"rgba(0,0,0,0)"},{"offset":0.75,"color":"#000"},{"offset":0.762,"color":"rgba(0,0,0,0)"},{"offset":0.8094,"color":"rgba(0,0,0,0)"},{"offset":0.8214,"color":"#000"},{"offset":0.8334,"color":"rgba(0,0,0,0)"},{"offset":0.8809,"color":"rgba(0,0,0,0)"},{"offset":0.8929,"color":"#000"},{"offset":0.9049,"color":"rgba(0,0,0,0)"},{"offset":0.9523,"color":"rgba(0,0,0,0)"},{"offset":0.9643,"color":"#000"},{"offset":0.9763,"color":"rgba(0,0,0,0)"}]}},"encoding":{"x":{"field":"q","type":"quantitative","axis":null},"y":{"field":"bp","type":"quantitative","axis":null}}},
{"data":{"name":"h4"},"mark":{"type":"line","interpolate":"step-after","color":"black","strokeWidth":1.2},"encoding":{"x":{"field":"q","type":"quantitative","axis":null},"y":{"field":"s","type":"quantitative","axis":null}}},
{"data":{"name":"h4"},"mark":{"type":"line","interpolate":"step-after","color":"black","strokeWidth":1.2},"encoding":{"x":{"field":"q","type":"quantitative","axis":null},"y":{"field":"bp","type":"quantitative","axis":null}}},
{"data":{"name":"h4"},"mark":{"type":"line","interpolate":"step-after","color":"black","strokeWidth":1.5},"encoding":{"x":{"field":"q","type":"quantitative","axis":null},"y":{"field":"t","type":"quantitative","axis":null}}},
{"data":{"name":"d4"},"mark":{"type":"errorbar","color":"black","thickness":1.5},"encoding":{"x":{"field":"q","type":"quantitative","axis":null},"y":{"field":"n","type":"quantitative","axis":null},"yError":{"field":"e"}}},
{"data":{"name":"d4"},"mark":{"type":"tick","orient":"horizontal","size":5.2,"thickness":1.5,"color":"black","opacity":1},"encoding":{"x":{"field":"q","type":"quantitative","axis":null},"y":{"field":"n","type":"quantitative","axis":null}}},
{"data":{"values":[{"x":0.113,"y":295,"t":"4) B"},{"x":0.3695,"y":295,"t":"right sign"}]},"mark":{"type":"text","align":"left","baseline":"alphabetic","font":"Liberation Sans","fontSize":21,"color":"black"},"encoding":{"x":{"field":"x","type":"quantitative","axis":null},"y":{"field":"y","type":"quantitative","axis":null},"text":{"field":"t"}}},
{"data":{"values":[{"x":0.264,"y":305,"t":"+**"}]},"mark":{"type":"text","align":"left","baseline":"alphabetic","font":"Liberation Sans","fontSize":14,"color":"black"},"encoding":{"x":{"field":"x","type":"quantitative","axis":null},"y":{"field":"y","type":"quantitative","axis":null},"text":{"field":"t"}}}
]}
]}
]
}
